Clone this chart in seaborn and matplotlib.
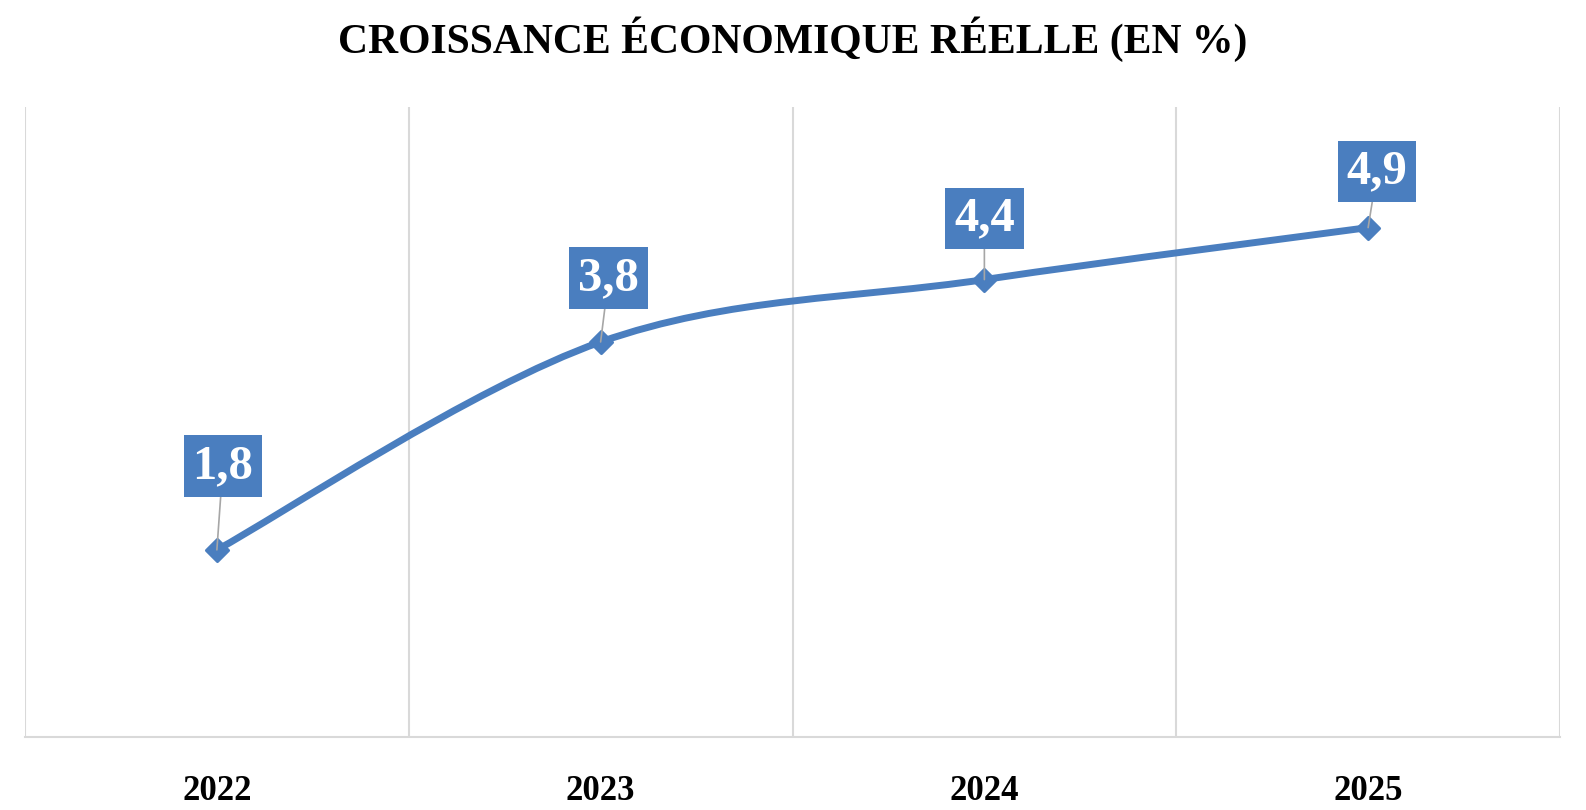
import numpy as np
import pandas as pd
import matplotlib.pyplot as plt
import seaborn as sns
from matplotlib.path import Path
from matplotlib.patches import PathPatch

# Data
years = ["2022", "2023", "2024", "2025"]
growth = [1.8, 3.8, 4.4, 4.9]
labels = ["1,8", "3,8", "4,4", "4,9"]

# label box offsets (pixels, relative to the point)
label_dx = [6, 8, 0, 9]
label_dy = [84, 64, 61, 56]

blue = "#4a7ebf"
grid_grey = "#d9d9d9"

sns.set_theme(style="white")
plt.rcParams['font.family'] = ['Liberation Serif', 'DejaVu Serif']

df = pd.DataFrame({"year": years, "growth": growth})
df["pos"] = np.arange(len(df))

fig = plt.figure(figsize=(15.86, 8.10), dpi=100)
ax = fig.add_axes([25 / 1586, 73 / 810, 1535 / 1586, 630 / 810])

# Excel-like smoothed line: cubic bezier segments, Catmull-Rom control points
x = df["pos"].to_numpy(dtype=float)
y = df["growth"].to_numpy(dtype=float)
xp = np.concatenate([[x[0]], x, [x[-1]]])
yp = np.concatenate([[y[0]], y, [y[-1]]])
verts = [(x[0], y[0])]
codes = [Path.MOVETO]
for i in range(len(x) - 1):
    c1 = (x[i] + (xp[i + 2] - xp[i]) / 6, y[i] + (yp[i + 2] - yp[i]) / 6)
    c2 = (x[i + 1] - (xp[i + 3] - xp[i + 1]) / 6, y[i + 1] - (yp[i + 3] - yp[i + 1]) / 6)
    verts += [c1, c2, (x[i + 1], y[i + 1])]
    codes += [Path.CURVE4] * 3
ax.add_patch(PathPatch(Path(verts, codes), facecolor="none", edgecolor=blue,
                       lw=5, capstyle="round", joinstyle="round", zorder=3))

sns.scatterplot(data=df, x="pos", y="growth", marker="D", s=130, color=blue,
                edgecolor=blue, linewidth=2, ax=ax, zorder=4, legend=False)

for i, row in df.iterrows():
    ax.annotate(labels[i], xy=(row["pos"], row["growth"]),
                xytext=(label_dx[i], label_dy[i]), textcoords="offset pixels",
                ha="center", va="center", fontsize=35, fontweight="bold",
                color="white", zorder=5,
                bbox=dict(boxstyle="square,pad=0.18", fc=blue, ec="none"),
                arrowprops=dict(arrowstyle="-", color="#a6a6a6", lw=1.2,
                                shrinkA=0, shrinkB=0))

ax.set_xlim(-0.5, 3.5)
ax.set_ylim(0, 6.06)
ax.set_xticks(df["pos"])
ax.set_xticklabels(years, fontsize=25, fontweight="bold", color="black")
ax.set_yticks([])
ax.tick_params(axis="x", length=0, pad=27)
ax.set_xlabel("")
ax.set_ylabel("")

for b in np.arange(-0.5, 4, 1.0):
    ax.axvline(b, color=grid_grey, lw=1.5, zorder=1)
for s in ["left", "right", "top"]:
    ax.spines[s].set_visible(False)
ax.spines["bottom"].set_color(grid_grey)
ax.spines["bottom"].set_linewidth(1.5)

fig.text(0.5, 1 - 39 / 810, "CROISSANCE ÉCONOMIQUE RÉELLE (EN %)",
         ha="center", va="center", fontsize=30, fontweight="bold", color="black")

fig.savefig("out.png", dpi=100, facecolor="white")
